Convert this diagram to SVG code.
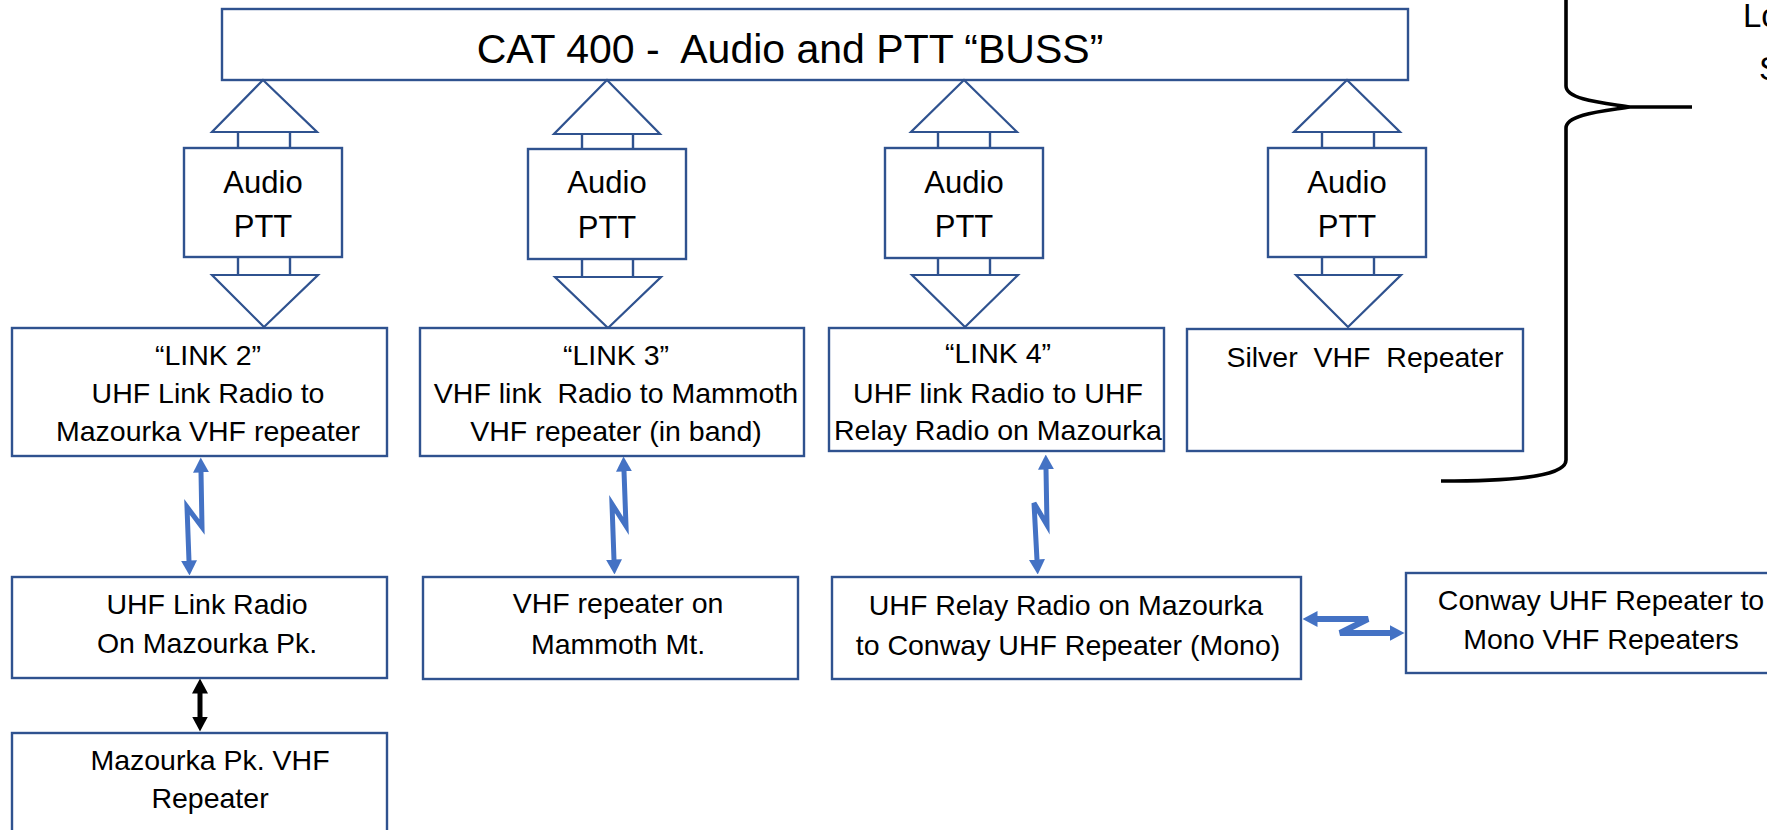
<svg xmlns="http://www.w3.org/2000/svg" width="1767" height="830" viewBox="0 0 1767 830" xml:space="preserve">
<style>
.box{fill:#fff;stroke:#2F528F;stroke-width:2.4}
.tri{fill:#fff;stroke:#2F528F;stroke-width:2.2;stroke-linejoin:miter}
.stub{stroke:#2F528F;stroke-width:2.4}
text{font-family:"Liberation Sans",Arial,sans-serif;fill:#000;white-space:pre}
.t{font-size:28.5px;text-anchor:middle}
.ap{font-size:31px;text-anchor:middle}
.title{font-size:41px;text-anchor:middle}
.zz{fill:none;stroke:#4472C4;stroke-width:5;stroke-linejoin:miter;marker-start:url(#ab);marker-end:url(#ab)}
</style>
<defs>
<marker id="ab" viewBox="0 0 15 16" refX="0.5" refY="8" markerWidth="15" markerHeight="16" markerUnits="userSpaceOnUse" orient="auto-start-reverse"><path d="M0,0 L15,8 L0,16 z" fill="#4472C4"/></marker>
<marker id="ak" viewBox="0 0 15 16" refX="0.5" refY="8" markerWidth="15" markerHeight="16" markerUnits="userSpaceOnUse" orient="auto-start-reverse"><path d="M0,0 L15,8 L0,16 z" fill="#000"/></marker>
</defs>
<rect width="1767" height="830" fill="#fff"/>

<g id="bus">
<rect class="box" x="222" y="9" width="1186" height="71"/>
<text class="title" x="790" y="63">CAT 400 -  Audio and PTT “BUSS”</text>
</g>

<g id="module1">
<polygon class="tri" points="263,80 212,132 317,132"/>
<line class="stub" x1="238" y1="132" x2="238" y2="148"/><line class="stub" x1="290" y1="132" x2="290" y2="148"/>
<rect class="box" x="184" y="148" width="158" height="109"/>
<text class="ap" x="263" y="193">Audio</text><text class="ap" x="263" y="237">PTT</text>
<line class="stub" x1="238" y1="257" x2="238" y2="275"/><line class="stub" x1="290" y1="257" x2="290" y2="275"/>
<polygon class="tri" points="212,275 318,275 264,327"/>
</g>

<g id="module2">
<polygon class="tri" points="607,80 554,134 660,134"/>
<line class="stub" x1="582" y1="134" x2="582" y2="149"/><line class="stub" x1="633" y1="134" x2="633" y2="149"/>
<rect class="box" x="528" y="149" width="158" height="110"/>
<text class="ap" x="607" y="193">Audio</text><text class="ap" x="607" y="238">PTT</text>
<line class="stub" x1="582" y1="259" x2="582" y2="277"/><line class="stub" x1="633" y1="259" x2="633" y2="277"/>
<polygon class="tri" points="555,277 661,277 608,328"/>
</g>

<g id="module3">
<polygon class="tri" points="964,80 911,132 1017,132"/>
<line class="stub" x1="938" y1="132" x2="938" y2="148"/><line class="stub" x1="990" y1="132" x2="990" y2="148"/>
<rect class="box" x="885" y="148" width="158" height="110"/>
<text class="ap" x="964" y="193">Audio</text><text class="ap" x="964" y="237">PTT</text>
<line class="stub" x1="938" y1="258" x2="938" y2="275"/><line class="stub" x1="990" y1="258" x2="990" y2="275"/>
<polygon class="tri" points="912,275 1018,275 965,327"/>
</g>

<g id="module4">
<polygon class="tri" points="1347,80 1294,132 1400,132"/>
<line class="stub" x1="1322" y1="132" x2="1322" y2="148"/><line class="stub" x1="1374" y1="132" x2="1374" y2="148"/>
<rect class="box" x="1268" y="148" width="158" height="109"/>
<text class="ap" x="1347" y="193">Audio</text><text class="ap" x="1347" y="237">PTT</text>
<line class="stub" x1="1322" y1="257" x2="1322" y2="275"/><line class="stub" x1="1374" y1="257" x2="1374" y2="275"/>
<polygon class="tri" points="1296,275 1401,275 1348,327"/>
</g>

<g id="link2">
<rect class="box" x="12" y="328" width="375" height="128"/>
<text class="t" x="208" y="365">“LINK 2”</text>
<text class="t" x="208" y="403">UHF Link Radio to</text>
<text class="t" x="208" y="441">Mazourka VHF repeater</text>
</g>

<g id="link3">
<rect class="box" x="420" y="328" width="384" height="128"/>
<text class="t" x="616" y="365">“LINK 3”</text>
<text class="t" x="616" y="403">VHF link  Radio to Mammoth</text>
<text class="t" x="616" y="441">VHF repeater (in band)</text>
</g>

<g id="link4">
<rect class="box" x="829" y="328" width="335" height="123"/>
<text class="t" x="998" y="363">“LINK 4”</text>
<text class="t" x="998" y="403">UHF link Radio to UHF</text>
<text class="t" x="998" y="440">Relay Radio on Mazourka</text>
</g>

<g id="silver">
<rect class="box" x="1187" y="329" width="336" height="122"/>
<text class="t" x="1365" y="367">Silver  VHF  Repeater</text>
</g>

<g id="uhf-link-radio">
<rect class="box" x="12" y="577" width="375" height="101"/>
<text class="t" x="207" y="614">UHF Link Radio</text>
<text class="t" x="207" y="653">On Mazourka Pk.</text>
</g>

<g id="mazourka-vhf">
<rect class="box" x="12" y="733" width="375" height="110"/>
<text class="t" x="210" y="770">Mazourka Pk. VHF</text>
<text class="t" x="210" y="808">Repeater</text>
</g>

<g id="mammoth">
<rect class="box" x="423" y="577" width="375" height="102"/>
<text class="t" x="618" y="613">VHF repeater on</text>
<text class="t" x="618" y="654">Mammoth Mt.</text>
</g>

<g id="uhf-relay">
<rect class="box" x="832" y="577" width="469" height="102"/>
<text class="t" x="1066" y="615">UHF Relay Radio on Mazourka</text>
<text class="t" x="1068" y="655">to Conway UHF Repeater (Mono)</text>
</g>

<g id="conway">
<rect class="box" x="1406" y="573" width="400" height="100"/>
<text class="t" x="1601" y="610">Conway UHF Repeater to</text>
<text class="t" x="1601" y="649">Mono VHF Repeaters</text>
</g>

<g id="brace">
<path d="M1566,-5 V86 C1566,100 1605,103 1630,107 H1692 M1630,107 C1605,111 1566,114 1566,128 V460 C1566,474 1530,481 1441,481" fill="none" stroke="#000" stroke-width="3.6"/>
<text x="1743" y="27" style="font-size:33px">Lo</text>
<text x="1759" y="80" style="font-size:33px">S</text>
</g>

<g id="connectors">
<path class="zz" d="M201,472 L202,527 L187,507 L189,561"/>
<path class="zz" d="M624,471 L626,526 L612,504 L614,560"/>
<path class="zz" d="M1046,469 L1047,525 L1034,503 L1037,560"/>
<path class="zz" style="stroke-width:6" d="M1317,619 L1368,619 L1340,633 L1390,633"/>
<path d="M200,693 L200,717" fill="none" stroke="#000" stroke-width="5" marker-start="url(#ak)" marker-end="url(#ak)"/>
</g>
</svg>
